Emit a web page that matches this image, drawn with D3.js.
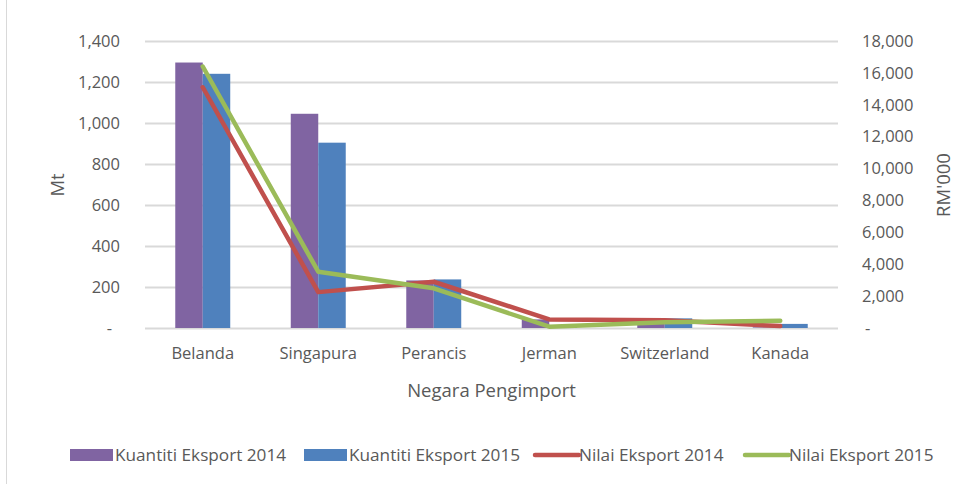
<!DOCTYPE html>
<html>
<head>
<meta charset="utf-8">
<script src="https://cdn.jsdelivr.net/npm/d3@7"></script>
<style>
  body { margin: 0; background: #fff; }
  svg { display: block; font-family: "Open Sans", Lato, sans-serif; }
</style>
</head>
<body>
<svg id="chart" width="974" height="484"></svg>
<script>
// data
const negara = ['Belanda', 'Singapura', 'Perancis', 'Jerman', 'Switzerland', 'Kanada'];
const kuantiti2014 = [1295, 1045, 232, 42, 22, 3];
const kuantiti2015 = [1240, 904, 237, 8, 47, 20];
const nilai2014 = [15100, 2250, 2900, 540, 480, 120];
const nilai2015 = [16400, 3530, 2490, 80, 360, 460];
const leftTicks = [0, 200, 400, 600, 800, 1000, 1200, 1400];
const rightTicks = [0, 2000, 4000, 6000, 8000, 10000, 12000, 14000, 16000, 18000];

const warna = { k14: '#8064A2', k15: '#4F81BD', n14: '#C0504D', n15: '#9BBB59' };
const teks = '#595959';
const fs = 16.5;

const svg = d3.select('#chart');
const m = { left: 145, right: 838, top: 41, bottom: 328 };

// chart frame (only the left edge shows in the crop)
svg.append('line')
  .attr('x1', 6.5).attr('x2', 6.5).attr('y1', 0).attr('y2', 484)
  .attr('stroke', '#d9d9d9');

const x = d3.scaleBand().domain(negara).range([m.left, m.right]);
const yL = d3.scaleLinear().domain([0, 1400]).range([m.bottom, m.top]);
const yR = d3.scaleLinear().domain([0, 18000]).range([m.bottom, m.top]);
const fmt = v => v === 0 ? '-' : d3.format(',')(v);

// gridlines
svg.append('g').selectAll('line').data(leftTicks).join('line')
  .attr('x1', m.left).attr('x2', m.right)
  .attr('y1', d => Math.round(yL(d)) + 0.5).attr('y2', d => Math.round(yL(d)) + 0.5)
  .attr('stroke', '#d9d9d9').attr('stroke-width', 2);

function gayaAxis(g) {
  g.attr('font-family', null).attr('font-size', null);
  g.select('.domain').remove();
  g.selectAll('text').attr('font-size', fs).attr('fill', teks);
}

// left axis
const axL = svg.append('g').attr('transform', `translate(${m.left - 25},0)`)
  .call(d3.axisLeft(yL).tickValues(leftTicks).tickFormat(fmt).tickSize(0).tickPadding(0))
  .call(gayaAxis);
axL.selectAll('text').filter(d => d === 0).attr('dx', -8);

// right axis
const axR = svg.append('g').attr('transform', `translate(${m.right + 24},0)`)
  .call(d3.axisRight(yR).tickValues(rightTicks).tickFormat(fmt).tickSize(0).tickPadding(0))
  .call(gayaAxis);
axR.selectAll('text').filter(d => d === 0).attr('dx', 3);

// bottom axis
svg.append('g').attr('transform', `translate(0,${m.bottom})`)
  .call(d3.axisBottom(x).tickSize(0).tickPadding(19))
  .call(gayaAxis);

// axis titles
svg.append('text').attr('x', (m.left + m.right) / 2).attr('y', 397)
  .attr('text-anchor', 'middle').attr('font-size', 18.5).attr('fill', teks)
  .text('Negara Pengimport');
svg.append('text').attr('transform', 'translate(64,185) rotate(-90)')
  .attr('text-anchor', 'middle').attr('font-size', 18.5).attr('fill', teks).text('Mt');
svg.append('text').attr('transform', 'translate(950,185) rotate(-90)')
  .attr('text-anchor', 'middle').attr('font-size', 18.5).attr('fill', teks).text("RM'000");

// bars
const bw = x.bandwidth() * 0.238;
const barSeries = [
  { nilai: kuantiti2014, warna: warna.k14, dx: -bw },
  { nilai: kuantiti2015, warna: warna.k15, dx: 0 }
];
barSeries.forEach(s => {
  svg.append('g').selectAll('rect').data(negara).join('rect')
    .attr('x', (d, i) => x(d) + x.bandwidth() / 2 + s.dx)
    .attr('width', bw)
    .attr('y', (d, i) => yL(s.nilai[i]))
    .attr('height', (d, i) => m.bottom - yL(s.nilai[i]))
    .attr('fill', s.warna);
});

// lines on the right axis
const garis = d3.line()
  .x(d => x(d.n) + x.bandwidth() / 2)
  .y(d => yR(d.v));
[{ nilai: nilai2014, warna: warna.n14 }, { nilai: nilai2015, warna: warna.n15 }].forEach(s => {
  svg.append('path')
    .datum(negara.map((n, i) => ({ n, v: s.nilai[i] })))
    .attr('d', garis)
    .attr('fill', 'none')
    .attr('stroke', s.warna)
    .attr('stroke-width', 4.5)
    .attr('stroke-linejoin', 'round')
    .attr('stroke-linecap', 'round');
});

// legend
const legenda = [
  { label: 'Kuantiti Eksport 2014', warna: warna.k14, jenis: 'bar', x: 70 },
  { label: 'Kuantiti Eksport 2015', warna: warna.k15, jenis: 'bar', x: 304 },
  { label: 'Nilai Eksport 2014', warna: warna.n14, jenis: 'line', x: 534 },
  { label: 'Nilai Eksport 2015', warna: warna.n15, jenis: 'line', x: 744 }
];
const lg = svg.append('g').selectAll('g').data(legenda).join('g')
  .attr('transform', d => `translate(${d.x},455)`);
lg.filter(d => d.jenis === 'bar').append('rect')
  .attr('x', 0).attr('y', -6).attr('width', 43).attr('height', 12).attr('fill', d => d.warna);
lg.filter(d => d.jenis === 'line').append('line')
  .attr('x1', 1).attr('x2', 45).attr('y1', 0).attr('y2', 0)
  .attr('stroke', d => d.warna).attr('stroke-width', 4.5).attr('stroke-linecap', 'round');
lg.append('text').attr('x', 45).attr('dy', '0.35em')
  .attr('font-size', 17.2).attr('fill', teks).text(d => d.label);
</script>
</body>
</html>
